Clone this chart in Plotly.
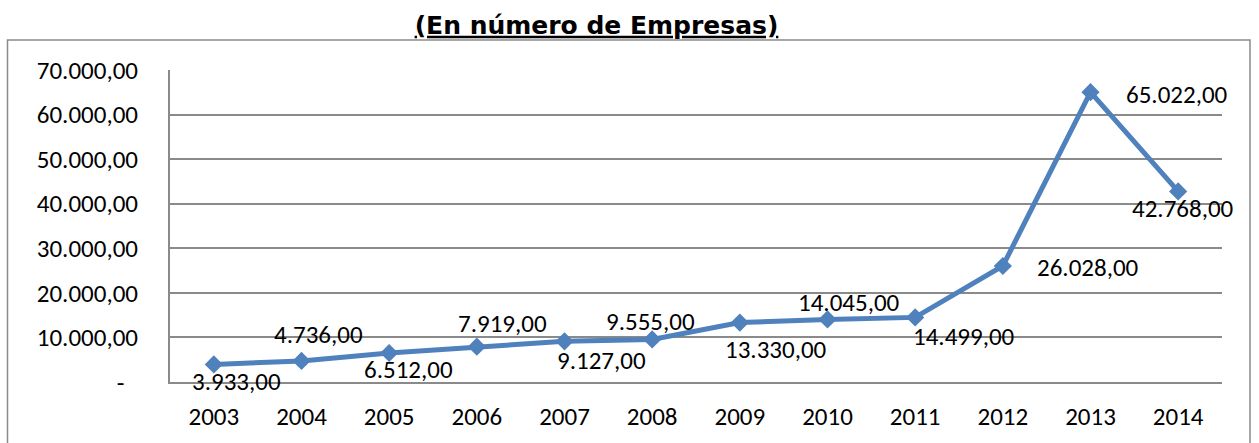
import plotly.graph_objects as go

# ---- data ----
years = ["2003", "2004", "2005", "2006", "2007", "2008",
         "2009", "2010", "2011", "2012", "2013", "2014"]
empresas = [3933, 4736, 6512, 7919, 9127, 9555,
            13330, 14045, 14499, 26028, 65022, 42768]
y_ticks = [0, 10000, 20000, 30000, 40000, 50000, 60000, 70000]
title_text = "(En número de Empresas)"

# ---- label placement (pixel offsets from each point) ----
label_dx = [23, 17, 19, 26, 37, -2, 36, 21, 49, 85, 86, 5]
label_dy = [17.5, -26, 16.5, -23, 19, -18, 27, -16.5, 19, 2, 2.5, 17]


def fmt_es(v):
    s = f"{v:,.2f}"
    return s.replace(",", "X").replace(".", ",").replace("X", ".")


tick_text = ["-\u2007" if v == 0 else fmt_es(v) for v in y_ticks]

FONT = "Carlito, Lato, 'Noto Sans', sans-serif"
BLUE = "#4F81BD"
GRID = "#8a8a8a"
FS = 25

fig = go.Figure()
fig.add_trace(go.Scatter(
    x=years, y=empresas, mode="lines+markers",
    line=dict(color=BLUE, width=5),
    marker=dict(symbol="diamond", size=14, color=BLUE),
    hoverinfo="skip", showlegend=False,
))

for i, (v, dx, dy) in enumerate(zip(empresas, label_dx, label_dy)):
    fig.add_annotation(
        x=i, y=v, text=fmt_es(v), showarrow=False,
        xanchor="center", yanchor="middle",
        xshift=dx, yshift=-dy,
        font=dict(family=FONT, size=FS, color="black"),
    )

W, H = 1259, 443
L, R, T, B = 170, 1222, 70, 382
fig.update_layout(
    width=W, height=H, autosize=False,
    margin=dict(l=L, r=W - R, t=T, b=H - B, pad=0, autoexpand=False),
    paper_bgcolor="white", plot_bgcolor="white",
    title=dict(
        text="<b><u>" + title_text + "</u></b>",
        x=596.5 / W, xref="container", xanchor="center",
        y=1 - 25 / H, yref="container", yanchor="middle",
        font=dict(family="'DejaVu Sans', sans-serif", size=25, color="black"),
        automargin=False,
    ),
    xaxis=dict(
        type="category", range=[-0.5, len(years) - 0.5],
        showgrid=False, showline=True,
        linecolor=GRID, linewidth=2, ticks="",
        tickfont=dict(family=FONT, size=FS, color="black"),
        ticklabelstandoff=11, fixedrange=True, automargin=False,
    ),
    yaxis=dict(
        range=[0, 70000], tickvals=y_ticks, ticktext=tick_text,
        showgrid=True, gridcolor=GRID, gridwidth=2,
        showline=True, linecolor=GRID, linewidth=2, ticks="",
        zeroline=False,
        tickfont=dict(family=FONT, size=FS, color="black"),
        ticklabelstandoff=25, fixedrange=True, automargin=False,
    ),
)


def px_to_paper_x(px):
    return (px - L) / (R - L)


def px_to_paper_y(py):
    return (B - py) / (B - T)


# outer chart border
fig.add_shape(
    type="rect", xref="paper", yref="paper",
    x0=px_to_paper_x(7.5), x1=px_to_paper_x(1250),
    y0=px_to_paper_y(460), y1=px_to_paper_y(40),
    line=dict(color=GRID, width=1.5), fillcolor="rgba(0,0,0,0)",
    layer="below",
)

fig.write_html(
    "out.html",
    config={"displayModeBar": False},
    post_script="document.body.style.margin='0';document.body.style.overflow='hidden';",
)
